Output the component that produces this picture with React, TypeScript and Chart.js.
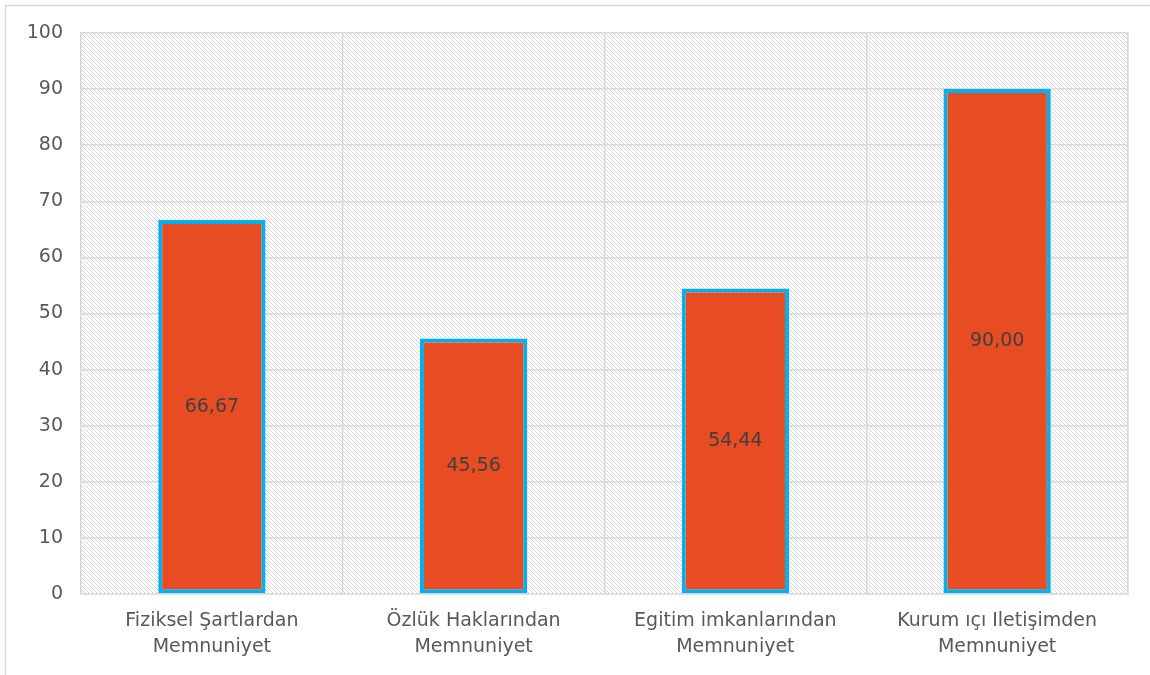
import React, { useEffect, useRef } from "react";
import { Chart, registerables } from "chart.js";

Chart.register(...registerables);

const categories: string[][] = [
  ["Fiziksel Şartlardan", "Memnuniyet"],
  ["Özlük Haklarından", "Memnuniyet"],
  ["Egitim imkanlarından", "Memnuniyet"],
  ["Kurum ıçı Iletişimden", "Memnuniyet"],
];
const values: number[] = [66.67, 45.56, 54.44, 90.0];
const valueLabels: string[] = ["66,67", "45,56", "54,44", "90,00"];
const yMin = 0;
const yMax = 100;
const yStep = 10;

const FONT = "'DejaVu Sans', 'Open Sans', sans-serif";

function makePattern(ctx: CanvasRenderingContext2D): CanvasPattern | string {
  const c = document.createElement("canvas");
  c.width = 4;
  c.height = 4;
  const p = c.getContext("2d");
  if (!p) return "#fff";
  p.fillStyle = "#ffffff";
  p.fillRect(0, 0, 4, 4);
  p.fillStyle = "#d6d6d6";
  for (let i = 0; i < 4; i++) p.fillRect(i, i, 1, 1);
  return ctx.createPattern(c, "repeat") || "#fff";
}

export default function App() {
  const ref = useRef<HTMLCanvasElement | null>(null);

  useEffect(() => {
    document.body.style.margin = "0";
    const canvas = ref.current;
    if (!canvas) return;
    const ctx0 = canvas.getContext("2d")!;
    const pattern = makePattern(ctx0);

    const bgPlugin = {
      id: "bgPlugin",
      beforeDraw(chart: any) {
        const { ctx, chartArea } = chart;
        ctx.save();
        ctx.fillStyle = "#ffffff";
        ctx.fillRect(0, 0, chart.width, chart.height);
        ctx.strokeStyle = "#d9d9d9";
        ctx.lineWidth = 1.5;
        ctx.strokeRect(5.5, 5.5, chart.width + 10, chart.height + 10);
        ctx.fillStyle = pattern;
        ctx.fillRect(chartArea.left, chartArea.top, chartArea.right - chartArea.left, chartArea.bottom - chartArea.top);
        ctx.restore();
      },
      afterDatasetsDraw(chart: any) {
        const { ctx } = chart;
        const meta = chart.getDatasetMeta(0);
        ctx.save();
        ctx.fillStyle = "#404040";
        ctx.font = `19px ${FONT}`;
        ctx.textAlign = "center";
        ctx.textBaseline = "middle";
        meta.data.forEach((el: any, i: number) => {
          const pt = el.getCenterPoint();
          ctx.fillText(valueLabels[i], pt.x, pt.y);
        });
        ctx.restore();
      },
    };

    const chart = new Chart(canvas, {
      type: "bar",
      data: {
        labels: categories,
        datasets: [
          {
            data: values,
            backgroundColor: "#E84C22",
            borderColor: "#00B0F0",
            borderWidth: 4,
            borderSkipped: false,
            categoryPercentage: 0.41,
            barPercentage: 1,
          },
        ],
      },
      options: {
        animation: false,
        responsive: false,
        devicePixelRatio: 1,
        layout: { padding: { top: 33, right: 22, left: 0, bottom: 0 } },
        plugins: { legend: { display: false }, tooltip: { enabled: false } },
        scales: {
          x: {
            grid: { display: true, offset: true, color: "#d9d9d9", lineWidth: 1.5, drawTicks: false },
            border: { display: true, color: "#d9d9d9", width: 1.5 },
            ticks: { color: "#595959", font: { family: FONT, size: 19, lineHeight: 1.38 }, padding: 14, maxRotation: 0 },
            afterFit(scale: any) {
              scale.height = 81;
            },
          },
          y: {
            min: yMin,
            max: yMax,
            ticks: { stepSize: yStep, color: "#595959", font: { family: FONT, size: 19 }, padding: 18 },
            grid: { color: "#d9d9d9", lineWidth: 1.5, drawTicks: false },
            border: { display: true, color: "#d9d9d9", width: 1.5 },
            afterFit(scale: any) {
              scale.width = 81;
            },
          },
          y2: {
            position: "right",
            min: yMin,
            max: yMax,
            ticks: { display: false },
            grid: { display: false },
            border: { display: true, color: "#d9d9d9", width: 1.5 },
            afterFit(scale: any) {
              scale.width = 0;
            },
          },
        },
      },
      plugins: [bgPlugin],
    });
    return () => chart.destroy();
  }, []);

  return <canvas ref={ref} width={1150} height={675} style={{ display: "block" }} />;
}
